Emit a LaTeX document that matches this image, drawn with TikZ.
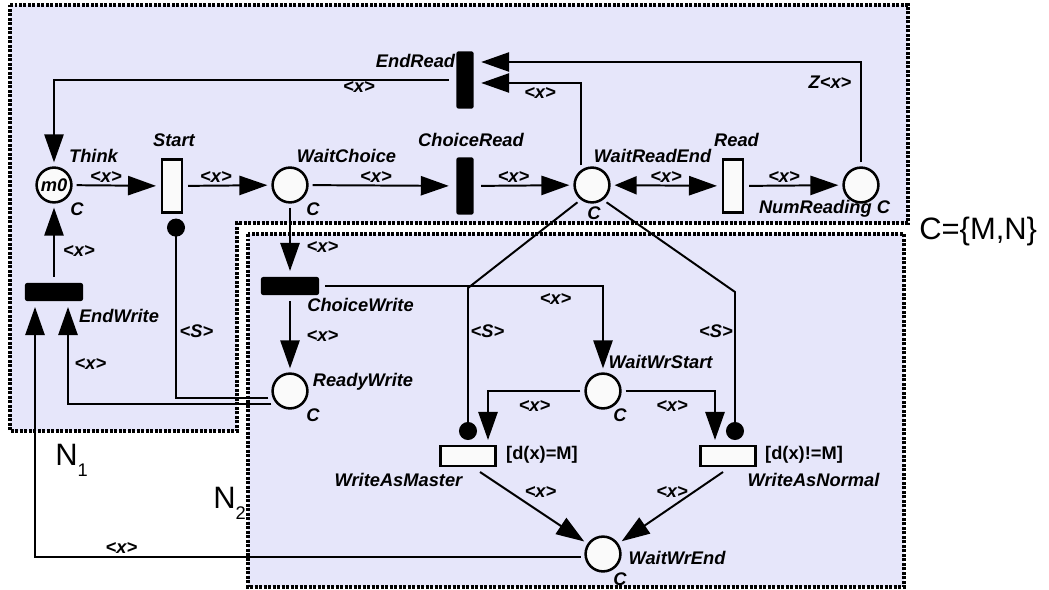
\documentclass[tikz,border=0pt]{standalone}
\usepackage{fontspec}
\setmainfont{Liberation Sans}
\usetikzlibrary{arrows.meta,calc}
\definecolor{netfill}{RGB}{230,230,250}
\definecolor{placefill}{RGB}{250,250,250}

\begin{document}
\begin{tikzpicture}[x=0.025cm, y=-0.025cm,
    >={Triangle[length=0.7cm,width=0.48cm]},
    place/.style={circle, draw, line width=1.8pt, fill=placefill, minimum size=0.87cm,
      inner sep=0pt, outer sep=0.13cm, font=\fontsize{13}{15}\selectfont\bfseries\itshape},
    transw/.style={rectangle, draw, line width=1.6pt, fill=placefill, inner sep=0pt,
      minimum width=0.5cm, minimum height=1.33cm, outer sep=0.15cm},
    transwh/.style={transw, minimum width=1.38cm, minimum height=0.5cm},
    transb/.style={rectangle, fill=black, rounded corners=1.5pt, inner sep=0pt,
      minimum width=0.43cm, minimum height=1.43cm, outer sep=0.19cm},
    transbh/.style={transb, minimum width=1.45cm, minimum height=0.45cm, outer sep=0.15cm},
    pnarc/.style={line width=1.4pt},
    inhib/.style={line width=1.4pt, -{Circle[length=0.45cm]}},
    lbl/.style={font=\fontsize{13}{15}\selectfont\bfseries\itshape, inner sep=0pt, anchor=base},
    guard/.style={font=\fontsize{13}{15}\selectfont\bfseries, inner sep=0pt, anchor=base},
    big/.style={font=\fontsize{22}{26}\selectfont, inner sep=0pt, anchor=base west},
    region/.style={fill=netfill, line width=2.2pt, dash pattern=on 2pt off 1.2pt}]
  \useasboundingbox (0,0) rectangle (1049,590);

  % the two subnets
  \draw[region] (10,5) -- (908,5) -- (908,223) -- (237,223) -- (237,431) -- (10,431) -- cycle; % N1
  \draw[region] (248,234) rectangle (904,587); % N2

  % places
  \node[place] (think) at (54,185) {m0};
  \node[place] (waitchoice) at (290,185) {};
  \node[place] (waitreadend) at (592,185) {};
  \node[place] (numreading) at (861,185) {};
  \node[place] (readywrite) at (290,391) {};
  \node[place] (waitwrstart) at (603,391) {};
  \node[place] (waitwrend) at (603,554) {};

  % transitions
  \node[transw] (start) at (172,186) {};
  \node[transb] (choiceread) at (465,186) {};
  \node[transw] (read) at (733,186) {};
  \node[transb] (endread) at (465,80) {};
  \node[transbh] (choicewrite) at (290,286) {};
  \node[transbh] (endwrite) at (54,292) {};
  \node[transwh] (writemaster) at (468,456) {};
  \node[transwh] (writenormal) at (728,456) {};

  % attachment points off the middle of a side
  \coordinate (erlow) at ($(endread.east)+(0,3)$);
  \coordinate (erhigh) at ($(endread.east)+(0,-18)$);
  \coordinate (ewright) at ($(endwrite.south)+(14,0)$);
  \coordinate (ewleft) at ($(endwrite.south)+(-19,0)$);
  \coordinate (startin) at ($(start.south)+(4,0)$);
  \coordinate (wmin) at (writemaster.north);
  \coordinate (wnin) at ($(writenormal.north)+(7,0)$);
  \coordinate (wmarr) at ($(writemaster.north)+(20,0)$);
  \coordinate (wnarr) at ($(writenormal.north)+(-13,0)$);
  \coordinate (wmout) at ($(writemaster.south)+(12,0)$);
  \coordinate (wnout) at ($(writenormal.south)+(-5,0)$);

  % arcs
  \draw[pnarc][->] (think) -- (start); % think -> start
  \draw[pnarc][->] (start) -- (waitchoice);
  \draw[pnarc][->] (waitchoice) -- (choiceread);
  \draw[pnarc][->] (choiceread) -- (waitreadend);
  \draw[pnarc][{Triangle[length=0.55cm,width=0.45cm]}->] (waitreadend) -- (read); % both ways
  \draw[pnarc][->] (read) -- (numreading);
  \draw[pnarc][->] (endread.west) -| (think.north);
  \draw[pnarc][->] (waitreadend.120) |- (erlow);
  \draw[pnarc][->] (numreading.north) |- (erhigh);
  \draw[pnarc][->] (waitchoice) -- (choicewrite);
  \draw[pnarc][->] (choicewrite) -- (readywrite);
  \draw[pnarc][->] (choicewrite.east) -| (waitwrstart.north);
  \draw[pnarc][->] (readywrite.215) -| (ewright);
  \draw[pnarc][->] (endwrite) -- (think);
  \draw[pnarc][->] (waitwrend.188) -| (ewleft);
  \draw[pnarc][->] (waitwrstart.west) -| (wmarr);
  \draw[pnarc][->] (waitwrstart.east) -| (wnarr);
  \draw[pnarc][->] (wmout) -- (waitwrend);
  \draw[pnarc][->] (wnout) -- (waitwrend);

  % inhibitor arcs
  \draw[inhib] (readywrite.197) -| (startin);
  \draw[inhib] (waitreadend.230) -- (wmin |- 0,288) -- (wmin);
  \draw[inhib] (waitreadend.-50) -- (wnin |- 0,292) -- (wnin);

  % names of places and transitions
  \node[lbl] (lthink) at (93.5,163) {Think};
  \node[lbl] (cthink) at (77,216) {C};
  \node[lbl] (lstart) at (174,147) {Start};
  \node[lbl] (lwaitchoice) at (346.5,163) {WaitChoice};
  \node[lbl] (cwaitchoice) at (313,216) {C};
  \node[lbl] (lchoiceread) at (471,147) {ChoiceRead};
  \node[lbl] (lwaitreadend) at (652.5,163) {WaitReadEnd};
  \node[lbl] (cwaitreadend) at (594,220) {C};
  \node[lbl] (lread) at (736.5,147) {Read};
  \node[lbl] (lnumreading) at (824.5,214) {NumReading C};
  \node[lbl] (lendread) at (415.5,68) {EndRead};
  \node[lbl] (lchoicewrite) at (360.5,311) {ChoiceWrite};
  \node[lbl] (lreadywrite) at (363,386) {ReadyWrite};
  \node[lbl] (creadywrite) at (313,421) {C};
  \node[lbl] (lendwrite) at (119,322) {EndWrite};
  \node[lbl] (lwaitwrstart) at (660.5,368) {WaitWrStart};
  \node[lbl] (cwaitwrstart) at (620,421) {C};
  \node[guard] (gmaster) at (542,459) {[d(x)=M]};
  \node[guard] (gnormal) at (804,459) {[d(x)!=M]};
  \node[lbl] (lwritemaster) at (398.5,486) {WriteAsMaster};
  \node[lbl] (lwritenormal) at (813.5,486) {WriteAsNormal};
  \node[lbl] (lwaitwrend) at (677,564) {WaitWrEnd};
  \node[lbl] (cwaitwrend) at (620,585) {C};

  % arc inscriptions
  \node[lbl] (x1) at (106,183) {<x>};
  \node[lbl] (x2) at (216,183) {<x>};
  \node[lbl] (x3) at (376,183) {<x>};
  \node[lbl] (x4) at (513.5,183) {<x>};
  \node[lbl] (x5) at (666,183) {<x>};
  \node[lbl] (x6) at (784,183) {<x>};
  \node[lbl] (zx) at (830,89) {Z<x>};
  \node[lbl] (x7) at (359,93) {<x>};
  \node[lbl] (x8) at (540,99) {<x>};
  \node[lbl] (x9) at (322.5,252) {<x>};
  \node[lbl] (x10) at (322.5,341) {<x>};
  \node[lbl] (x11) at (90.5,369) {<x>};
  \node[lbl] (x12) at (79,257) {<x>};
  \node[lbl] (x13) at (121.5,553) {<x>};
  \node[lbl] (x14) at (555.5,304) {<x>};
  \node[lbl] (x15) at (534.5,411) {<x>};
  \node[lbl] (x16) at (672,411) {<x>};
  \node[lbl] (x17) at (540.5,497) {<x>};
  \node[lbl] (x18) at (672,497) {<x>};
  \node[lbl] (s1) at (196.5,337) {<S>};
  \node[lbl] (s2) at (487.5,337) {<S>};
  \node[lbl] (s3) at (716,337) {<S>};

  % net names and colour set
  \node[big] (n1) at (55,465) {N\raisebox{-8.5pt}{\fontsize{13}{15}\selectfont 1}};
  \node[big] (n2) at (213,508) {N\raisebox{-8pt}{\fontsize{13}{15}\selectfont 2}};
  \node[big] (cset) at (919,239) {C=\{M,N\}};
\end{tikzpicture}
\end{document}
